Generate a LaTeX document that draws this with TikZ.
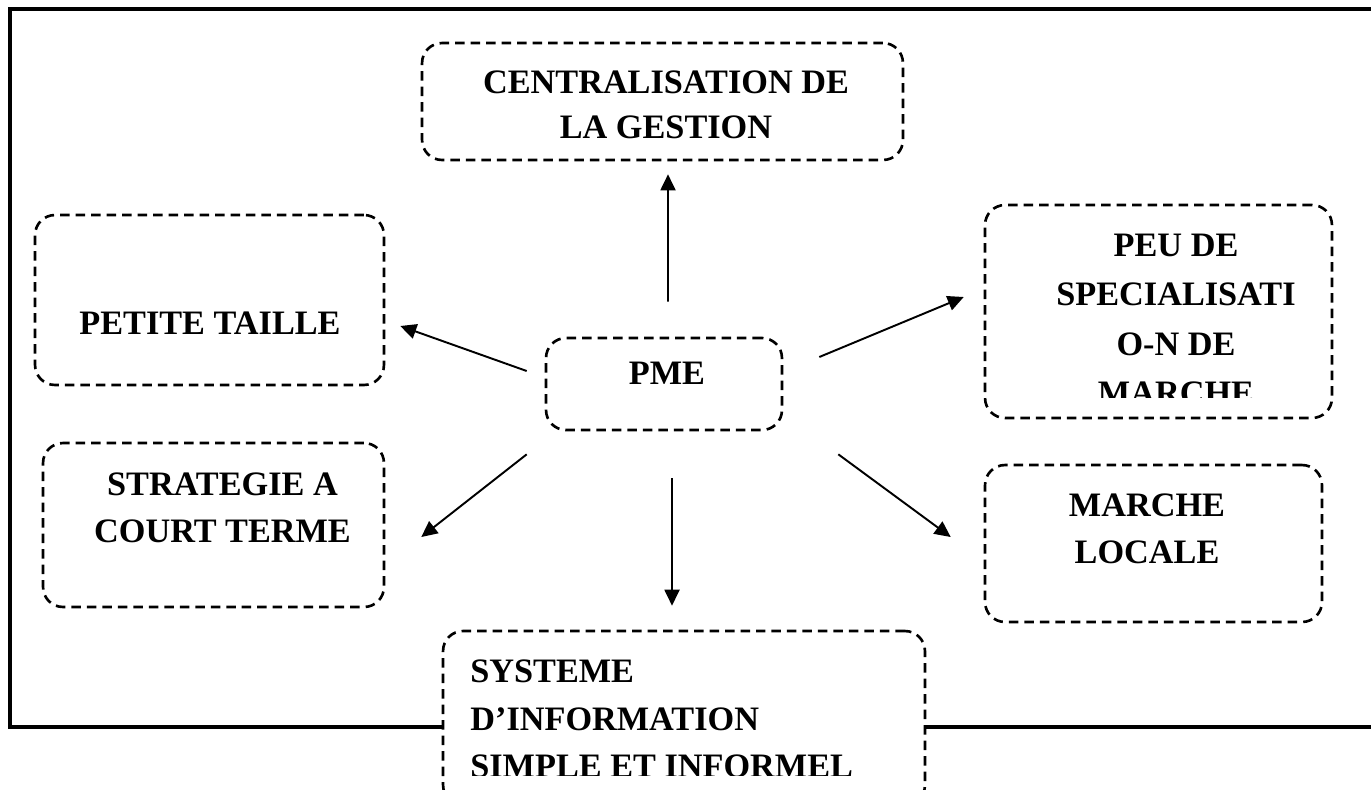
\documentclass[tikz,border=0pt]{standalone}
\usepackage{fontspec}
\setmainfont{Liberation Serif}
\usetikzlibrary{arrows.meta, calc}

\begin{document}
\begin{tikzpicture}[
    x=0.02cm,
    y=-0.02cm,
    >={Triangle[length=0.32cm, width=0.3cm]},
    box/.style={draw, dash pattern=on 0.19cm off 0.12cm, line width=1.5pt, rounded corners=0.4cm, fill=white},
    lbl/.style={font=\fontsize{19.5}{#1}\selectfont\bfseries, inner sep=0pt, align=center},
    lbl/.default=27pt,
    link/.style={->, line width=1.1pt},
]
    \useasboundingbox (0,0) rectangle (1371,789);

    \draw[line width=1.8pt] (1380,9) -- (10,9) -- (10,727) -- (1380,727);

    \node[box, minimum width=9.62cm, minimum height=2.34cm] (cent)   at (662.5,101.5) {};
    \node[box, minimum width=4.72cm, minimum height=1.84cm] (pme)    at (664,384)     {};
    \node[box, minimum width=6.98cm, minimum height=3.4cm]  (taille) at (209.5,300)   {};
    \node[box, minimum width=6.82cm, minimum height=3.28cm] (strat)  at (213.5,525)   {};
    \node[box, minimum width=6.94cm, minimum height=4.26cm] (peu)    at (1158.5,311.5) {};
    \node[box, minimum width=6.74cm, minimum height=3.14cm] (local)  at (1153.5,543.5) {};
    \node[box, minimum width=9.64cm, minimum height=3.48cm] (sys)    at (684,718)     {};

    \node[lbl=25.6pt]  (cent-txt)   at (666,105)     {CENTRALISATION DE\\LA GESTION};
    \node[lbl]         (pme-txt)    at (667,373.5)   {PME};
    \node[lbl]         (taille-txt) at (210,323.5)   {PETITE TAILLE};
    \node[lbl=26.75pt] (strat-txt)  at (222.5,508)   {STRATEGIE A\\COURT TERME};
    \node[lbl]         (local-txt)  at (1147,529)    {MARCHE\\LOCALE};

    \begin{scope}
        \clip (985,205) rectangle (1332,397);
        \node[lbl=28.2pt, anchor=north] (peu-txt) at (1176,233.5) {PEU DE\\SPECIALISATI\\O-N DE\\MARCHE};
    \end{scope}

    \begin{scope}
        \clip (443,631) rectangle (925,775);
        \node[lbl=27.3pt, align=left, anchor=north west] (sys-txt) at (470,659)
            {SYSTEME\\D’INFORMATION\\SIMPLE ET INFORMEL};
    \end{scope}

    \path[link]
        ($(pme.north)+(4,-35)$)       edge ($(cent.south)+(5.5,13)$)
        ($(pme.west)+(-18,-13)$)      edge ($(taille.east)+(15,26)$)
        ($(pme.east)+(36,-27)$)       edge ($(peu.west)+(-20,-14.5)$)
        ($(pme.south west)+(-18,23)$) edge ($(strat.east)+(36,12)$)
        ($(pme.south)+(8,47)$)        edge ($(sys.north)+(-12,-24)$)
        ($(pme.south east)+(55,23)$)  edge ($(local.west)+(-33,-6.5)$)
    ;
\end{tikzpicture}
\end{document}
